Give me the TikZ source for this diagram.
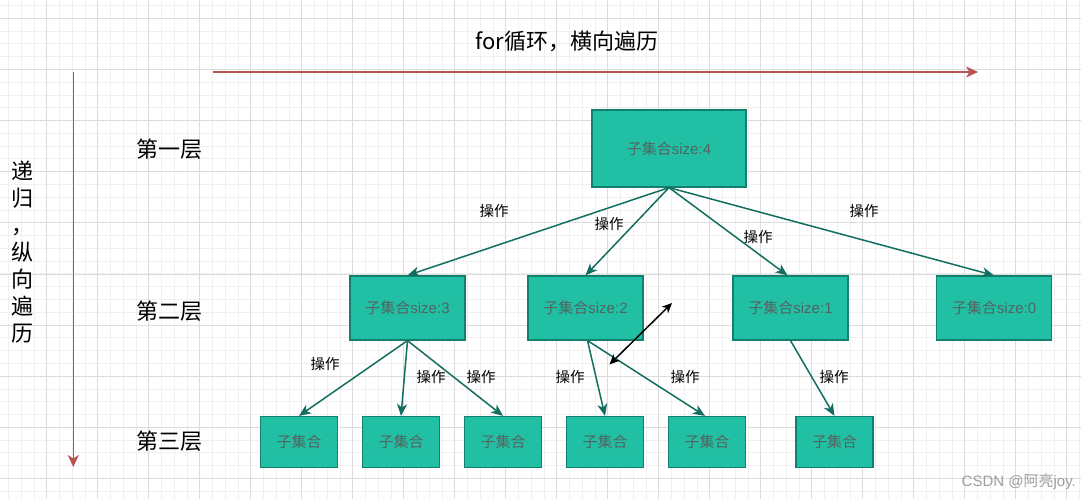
\documentclass[tikz,border=0pt]{standalone}
\usepackage{fontspec}
\setmainfont{Liberation Sans}
\newfontfamily\cjk{Noto Sans CJK SC}
\usetikzlibrary{arrows.meta}
\definecolor{tealfill}{HTML}{21C0A5}
\definecolor{tealdraw}{HTML}{11806D}
\definecolor{tealedge}{HTML}{126E60}
\definecolor{boxtext}{HTML}{546360}
\definecolor{redline}{HTML}{B85450}
\definecolor{gridmin}{HTML}{F0F0F0}
\definecolor{gridmaj}{HTML}{DCDCDC}
\begin{document}
\begin{tikzpicture}[x=1pt,y=-1pt,
  box/.style={draw=tealdraw, fill=tealfill, line width=1.2pt, text=boxtext,
    font=\fontsize{15}{18}\selectfont, inner sep=0pt},
  bigbox/.style={box, minimum width=154pt, minimum height=77pt},
  midbox/.style={box, minimum width=115pt, minimum height=64pt},
  smallbox/.style={box, minimum width=77pt, minimum height=51pt},
  edge/.style={draw=tealedge, line width=1.5pt, -{Stealth[length=12pt,width=10pt,inset=3.5pt]}},
  oplabel/.style={font=\cjk\fontsize{14.5}{17}\selectfont, text=black, inner sep=1pt},
  layer/.style={font=\cjk\fontsize{22}{26}\selectfont, text=black},
  redarrow/.style={draw=redline, line width=1.5pt, -{Stealth[length=12pt,width=11pt,inset=3.5pt]}},
  blackarrow/.style={draw=black, line width=1.5pt, {Stealth[length=10pt,width=9pt,inset=3pt]}-{Stealth[length=10pt,width=9pt,inset=3pt]}},
  gminor/.style={draw=gridmin, line width=0.8pt},
  gmajor/.style={draw=gridmaj, line width=0.8pt}
]
\useasboundingbox (0,0) rectangle (1081,499);
\fill[white] (0,0) rectangle (1081,499);
% grid
\foreach \i in {0,...,84} {\draw[gminor] ({8.45+12.75*\i},0) -- ({8.45+12.75*\i},499);}
\foreach \j in {0,...,38} {\draw[gminor] (0,{5.5+12.78*\j}) -- (1081,{5.5+12.78*\j});}
\foreach \i in {0,...,20} {\draw[gmajor] ({46.7+51*\i},0) -- ({46.7+51*\i},499);}
\foreach \j in {0,...,9} {\draw[gmajor] (0,{18.3+51.12*\j}) -- (1081,{18.3+51.12*\j});}

% titles
\node[layer] (title) at (567,41) {for{\cjk 循环，横向遍历}};
\node[font=\cjk\fontsize{22}{27}\selectfont, align=center, inner sep=0pt] (vtitle) at (22.5,252) {递\\归\\，\\纵\\向\\遍\\历};
\node[layer] (l1) at (169,149) {第一层};
\node[layer] (l2) at (169,311) {第二层};
\node[layer] (l3) at (169,441) {第三层};

% red axes
\coordinate (h1) at (213,72);
\coordinate (h2) at (978,72);
\coordinate (v1) at (73.3,72);
\coordinate (v2) at (73.3,467);
\draw[redarrow] (h1) -- (h2);
\draw[redarrow] (v1) -- (v2);

% boxes
\node[bigbox] (top) at (669,148.5) {{\cjk 子集合}size:4};
\node[midbox] (b3) at (407.5,308) {{\cjk 子集合}size:3};
\node[midbox] (b2) at (585.5,308) {{\cjk 子集合}size:2};
\node[midbox] (b1) at (790.5,308) {{\cjk 子集合}size:1};
\node[midbox] (b0) at (994,308) {{\cjk 子集合}size:0};
\node[smallbox] (c1) at (299,442) {\cjk 子集合};
\node[smallbox] (c2) at (401,442) {\cjk 子集合};
\node[smallbox] (c3) at (503,442) {\cjk 子集合};
\node[smallbox] (c4) at (605,442) {\cjk 子集合};
\node[smallbox] (c5) at (707,442) {\cjk 子集合};
\node[smallbox] (c6) at (834.5,442) {\cjk 子集合};

% edges
\draw[edge] (top.south) -- (b3.north);
\draw[edge] (top.south) -- (b2.north);
\draw[edge] (top.south) -- ([xshift=-3pt]b1.north);
\draw[edge] (top.south) -- (b0.north);
\draw[edge] (b3.south) -- (c1.north);
\draw[edge] (b3.south) -- (c2.north);
\draw[edge] (b3.south) -- (c3.north);
\draw[edge] ([xshift=2pt]b2.south) -- (c4.north);
\draw[edge] ([xshift=2pt]b2.south) -- ([xshift=-2pt]c5.north);
\draw[edge] (b1.south) -- (c6.north);

% labels
\node[oplabel] (o1) at (494,211) {操作};
\node[oplabel] (o2) at (609,224) {操作};
\node[oplabel] (o3) at (758,237) {操作};
\node[oplabel] (o4) at (864,211) {操作};
\node[oplabel] (o5) at (325,364) {操作};
\node[oplabel] (o6) at (431,377) {操作};
\node[oplabel] (o7) at (481,377) {操作};
\node[oplabel] (o8) at (570,377) {操作};
\node[oplabel] (o9) at (685,377) {操作};
\node[oplabel] (o10) at (834,377) {操作};

% black double arrow
\coordinate (d1) at (609.5,364.5);
\coordinate (d2) at (672,303);
\draw[blackarrow] (d1) -- (d2);

% watermark
\node[anchor=east, text=gray!75, font=\fontsize{15}{18}\selectfont, inner sep=0pt] (wm) at (1076,482) {CSDN @{\cjk 阿亮}joy.};
\end{tikzpicture}
\end{document}
